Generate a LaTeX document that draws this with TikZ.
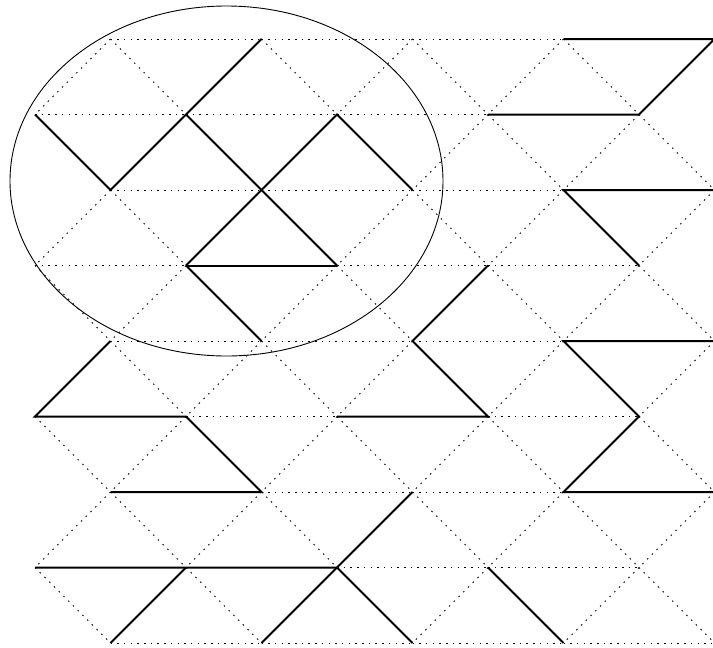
\documentclass[tikz,border=0pt]{standalone}
\begin{document}
\begin{tikzpicture}[x=1pt,y=-1pt,
  lat/.style={line width=1pt, dash pattern=on 1.5pt off 5.2pt},
  sol/.style={line width=2pt, line join=miter},
  ring/.style={line width=0.9pt}]
\useasboundingbox (0,0) rectangle (713,648);
\foreach \i in {0,...,9}
  \foreach \j in {0,...,8}
    \coordinate (p\i-\j) at ({35+75.5*\i},{39+75.5*\j});
% horizontal dotted lines
\foreach \j in {0,2,4,6,8}
  \foreach \a/\b in {1/3,3/5,5/7,7/9}
    \draw[lat] (p\a-\j) -- (p\b-\j);
\foreach \j in {1,3,5,7}
  \foreach \a/\b in {0/2,2/4,4/6,6/8}
    \draw[lat] (p\a-\j) -- (p\b-\j);
% diagonal dotted lines
\foreach \j in {0,2,4,6}{
  \pgfmathtruncatemacro\n{\j+1}
  \foreach \i in {1,3,5,7,9}{
    \pgfmathtruncatemacro\l{\i-1}
    \draw[lat] (p\i-\j) -- (p\l-\n);
  }
  \foreach \i in {1,3,5,7}{
    \pgfmathtruncatemacro\r{\i+1}
    \draw[lat] (p\i-\j) -- (p\r-\n);
  }
}
\foreach \j in {1,3,5,7}{
  \pgfmathtruncatemacro\n{\j+1}
  \foreach \i in {2,4,6,8}{
    \pgfmathtruncatemacro\l{\i-1}
    \draw[lat] (p\i-\j) -- (p\l-\n);
  }
  \foreach \i in {0,2,4,6,8}{
    \pgfmathtruncatemacro\r{\i+1}
    \draw[lat] (p\i-\j) -- (p\r-\n);
  }
}
% solid paths
\draw[sol] (p0-1) -- (p1-2) -- (p2-1) -- (p3-0);
\draw[sol] (p2-1) -- (p3-2) -- (p4-3);
\draw[sol] (p2-3) -- (p3-2) -- (p4-1) -- (p5-2);
\draw[sol] (p2-3) -- (p4-3);
\draw[sol] (p2-3) -- (p3-4);
\draw[sol] (p7-0) -- (p9-0) -- (p8-1) -- (p6-1);
\draw[sol] (p9-2) -- (p7-2) -- (p8-3);
\draw[sol] (p6-3) -- (p5-4) -- (p6-5) -- (p4-5);
\draw[sol] (p9-4) -- (p7-4) -- (p8-5) -- (p7-6) -- (p9-6);
\draw[sol] (p1-4) -- (p0-5) -- (p2-5) -- (p3-6) -- (p1-6);
\draw[sol] (p5-6) -- (p4-7) -- (p3-8);
\draw[sol] (p0-7) -- (p4-7) -- (p5-8);
\draw[sol] (p2-7) -- (p1-8);
\draw[sol] (p6-7) -- (p7-8);
% ellipse
\draw[ring] (226.5,181) ellipse [x radius=216.5, y radius=175];
\end{tikzpicture}
\end{document}
